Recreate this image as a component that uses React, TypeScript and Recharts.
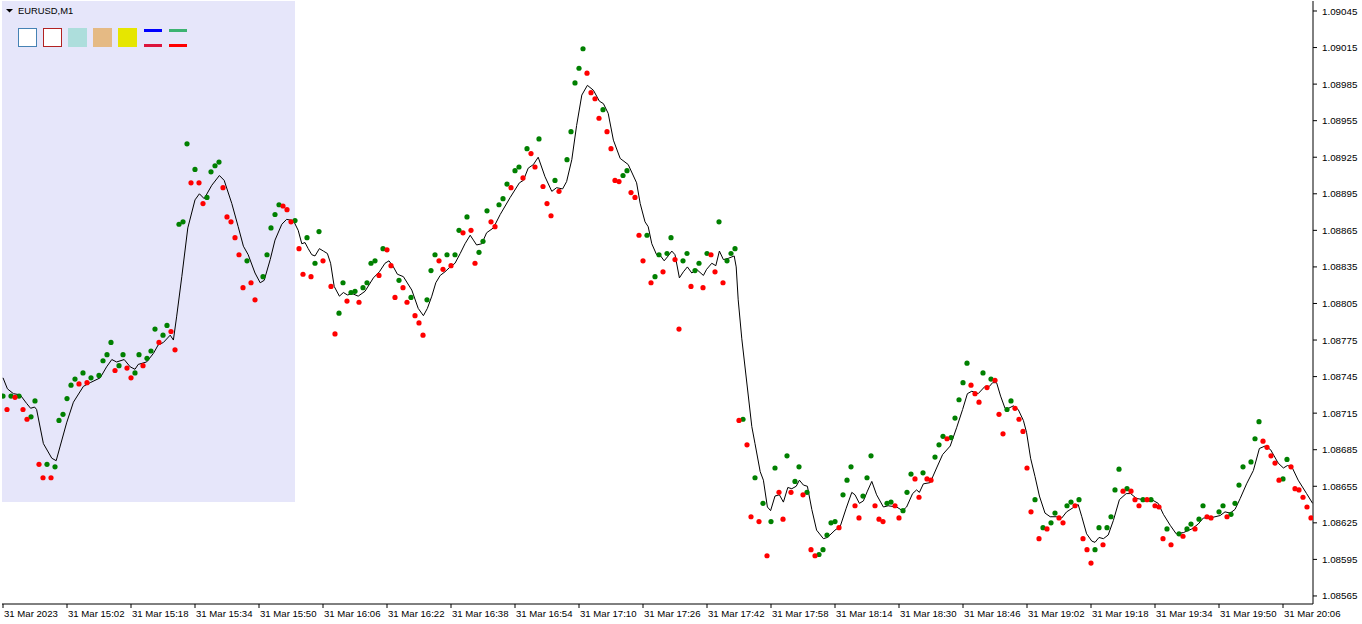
import React from "react";
import { ComposedChart, Line, Scatter, XAxis, YAxis, ReferenceArea } from "recharts";

// one bar per minute, bar 0 = 31 Mar 14:46
const timeTicks = [0, 16, 32, 48, 64, 80, 96, 112, 128, 144, 160, 176, 192, 208, 224, 240, 256, 272, 288, 304, 320];
const timeLabels = [
  "31 Mar 2023", "31 Mar 15:02", "31 Mar 15:18", "31 Mar 15:34", "31 Mar 15:50", "31 Mar 16:06",
  "31 Mar 16:22", "31 Mar 16:38", "31 Mar 16:54", "31 Mar 17:10", "31 Mar 17:26", "31 Mar 17:42",
  "31 Mar 17:58", "31 Mar 18:14", "31 Mar 18:30", "31 Mar 18:46", "31 Mar 19:02", "31 Mar 19:18",
  "31 Mar 19:34", "31 Mar 19:50", "31 Mar 20:06",
];
const priceTicks = [
  1.09045, 1.09015, 1.08985, 1.08955, 1.08925, 1.08895, 1.08865, 1.08835, 1.08805,
  1.08775, 1.08745, 1.08715, 1.08685, 1.08655, 1.08625, 1.08595, 1.08565,
];

// dot per bar (null = none), colour by bar: g = green, r = red
const dotPrices = [
  1.08729, 1.08718, 1.08729, 1.08728, 1.08729, 1.08718, 1.0871, 1.08712, 1.08725, 1.08673,
  1.08662, 1.08673, 1.08662, 1.08671, 1.08709, 1.08714, 1.08727, 1.08738, 1.08743, 1.08739,
  1.08748, 1.0874, 1.08744, null, 1.08746, 1.08758, 1.08763, 1.08773, 1.0875, 1.08754,
  1.08763, 1.08752, 1.08744, 1.08748, 1.08763, 1.08754, 1.0876, 1.08766, 1.08784, 1.08773,
  1.08779, 1.08787, 1.08782, 1.08767, 1.0887, 1.08872, 1.08936, 1.08904, 1.08915, 1.08904,
  1.08887, 1.08892, 1.08913, 1.08918, 1.08921, 1.089, 1.08876, 1.08872, 1.08859, 1.08845,
  1.08818, 1.0884, 1.08822, 1.08808, null, 1.08827, 1.08845, 1.08867, 1.08878, 1.08886,
  1.08885, 1.08882, 1.08872, 1.08873, 1.0885, 1.08829, 1.08859, 1.08827, 1.08838, 1.08864,
  1.0884, null, 1.08819, 1.0878, 1.08797, 1.08822, 1.08807, 1.08814, 1.08815, 1.08806,
  1.08818, 1.08822, 1.08838, 1.0884, 1.08828, 1.0885, 1.08849, 1.08836, 1.0881, 1.08824,
  1.08818, 1.08806, 1.0881, 1.08795, 1.08789, 1.08779, 1.08808, 1.08832, 1.08845, 1.0884,
  1.08833, 1.08845, 1.08836, 1.08845, 1.08865, 1.08863, 1.08876, 1.08865, 1.08838, 1.08847,
  1.08856, 1.08881, 1.08872, 1.08868, 1.08886, 1.08891, 1.08903, 1.089, 1.08914, 1.08917,
  1.08908, 1.08932, 1.08928, 1.08917, 1.0894, 1.08901, 1.08887, 1.08877, 1.08906, 1.08897,
  null, 1.08923, 1.08946, 1.08986, 1.08998, 1.09014, 1.08994, 1.08978, 1.08973, 1.08957,
  1.08964, 1.08946, 1.08932, 1.08906, 1.08905, 1.0891, 1.08914, 1.08896, 1.08892, 1.08861,
  1.0884, 1.08861, 1.08822, 1.08827, 1.08845, 1.08831, 1.08846, 1.08859, 1.08841, 1.08784,
  1.0884, 1.08846, 1.08819, 1.08832, 1.08838, 1.08818, 1.08846, 1.08845, 1.08831, 1.08872,
  1.08822, 1.0884, 1.08846, 1.0885, 1.08709, 1.0871, 1.08689, 1.0863, 1.08662, 1.08626,
  1.08641, 1.08598, 1.08626, 1.0867, 1.0865, 1.08628, 1.0868, 1.0865, 1.08659, 1.08671,
  1.08648, 1.0865, 1.08603, 1.08598, 1.08599, 1.08603, 1.08615, 1.08625, 1.08626, 1.08621,
  1.08648, 1.0866, 1.08671, 1.08639, 1.08629, 1.08647, 1.08662, 1.0868, 1.08639, 1.08628,
  1.08626, 1.08641, 1.08642, 1.08639, 1.08629, 1.08635, 1.0865, 1.08665, 1.08661, 1.08646,
  1.08666, 1.08661, 1.0866, 1.08679, 1.08689, 1.08696, 1.08694, 1.08695, 1.08711, 1.08726,
  1.0874, 1.08756, 1.08738, 1.08731, 1.08724, 1.08748, 1.08736, 1.08743, 1.08742, 1.08714,
  1.08698, 1.08718, 1.08725, 1.08719, 1.0871, 1.087, 1.0867, 1.08634, 1.08644, 1.08612,
  1.08621, 1.0862, 1.08625, 1.08633, 1.08629, 1.08625, 1.08639, 1.08642, 1.08639, 1.08644,
  1.08612, 1.08603, 1.08592, 1.08603, 1.08621, 1.08607, 1.08621, 1.0863, 1.08652, 1.08669,
  1.08651, 1.08653, 1.08651, 1.08644, 1.08639, 1.08644, 1.08644, 1.08644, 1.08639, 1.08638,
  1.08612, 1.0862, 1.08607, null, 1.08616, 1.08614, 1.0862, 1.08624, 1.0862, 1.08628,
  1.08639, 1.0863, 1.08629, null, 1.08634, 1.08639, 1.0863, 1.08632, 1.08641, 1.08656,
  1.08671, null, 1.08675, 1.08694, 1.08708, 1.08692, 1.08687, 1.0868, 1.08674, 1.0866,
  1.08661, 1.08677, 1.08671, 1.08653, 1.08652, 1.08646, 1.08638, 1.08629,
];
const dotSides =
  "grgrgrrggr" + "rgrggggggr" + "grg-ggggrg" + "grrggrgggr" + "ggrrgggrgr" +
  "rggggrrrrr" + "rgrr-ggggg" + "rrrgrrgrgg" + "r-rrggrggr" + "ggggrgrrrg" +
  "rrgrrrgggr" + "rgrggrgrrg" + "ggrrgggrgg" + "rgrrgrrrgr" + "-gggggrrrr" +
  "grrrrggrrr" + "rgrggrggrr" + "ggrggrgrrg" + "rgggrgrrgr" + "grggrrgrgg" +
  "rgrrgggggr" + "gggrrgggrr" + "rggrrgggrr" + "grrgggrggg" + "ggrrrgrgrr" +
  "rggrrrrrgr" + "grggrrggrg" + "rrrggrgggg" + "rgrrrgrgrr" + "rgr-grggrg" +
  "grr-ggrggg" + "g-gggrrrrr" + "ggrrrrrr";

// moving average line (bar position, price)
const lineBars = [
  0, 1.1, 2.6, 4.3, 5.9, 6.9, 7.9, 8.4, 10.1, 12.2, 13.3, 14.3, 15.9, 17.6, 20.1, 21.8, 24.3, 25.9, 27.2, 28.4,
  30.3, 31.8, 33, 33.8, 35.9, 37.6, 38.8, 40.1, 41.8, 42.6, 43.4, 44.7, 46.2, 48, 49.1, 50.3, 52.2, 54.1, 55.3, 57.2,
  58.8, 60.1, 61.3, 63, 64.3, 65.3, 66.8, 68, 69.7, 70.9, 72.6, 73.8, 74.7, 75.5, 76.3, 77.2, 78, 79.1, 80.1, 81.1,
  81.9, 82.8, 84.1, 85.1, 86.1, 87.4, 88.8, 90.5, 92.6, 94.1, 95.5, 96.5, 97.6, 98.6, 100.1, 102.2, 103.8, 105.1, 106.1, 107.2,
  108.2, 109.3, 110.5, 111.8, 113, 114.3, 115.5, 116.8, 117.6, 118.4, 119.7, 120.9, 122.6, 124.3, 126.8, 129.1, 130.1, 131.3, 132.6, 133.8,
  135.5, 137.2, 138.4, 139.9, 140.9, 142.2, 143.4, 144.7, 146.1, 147.6, 149.1, 150.1, 151.3, 152.6, 154.3, 155.5, 156.3, 158.4, 159.3, 160.5,
  161.3, 162.2, 163.4, 164.4, 165.3, 166.3, 167.2, 168, 169.1, 170.1, 171.1, 172.2, 173.4, 175.1, 175.9, 177.2, 178.2, 179.1, 180.1, 181.3,
  182.8, 183.3, 183.8, 184.7, 187.2, 188, 189.3, 190.1, 191.1, 191.9, 193, 194.1, 195.1, 196.2, 197.2, 198.3, 199.1, 200.1, 201.1, 202.2,
  203.4, 205.1, 206.1, 208, 209.3, 210.8, 212.2, 213, 214.1, 215.1, 216.1, 217.2, 218.4, 220.1, 221.3, 223.4, 224.9, 225.9, 227.4, 228.4,
  229.1, 230.1, 231.8, 233.4, 234.9, 236.8, 238.4, 239.9, 241.1, 242.2, 243.8, 245.5, 246.6, 247.4, 248.4, 249.4, 250.5, 251.4, 252.6, 253.8,
  255.1, 255.9, 256.9, 258, 259.1, 260.5, 261.8, 263.4, 264.7, 265.9, 267.8, 268.8, 269.7, 270.9, 272.2, 273, 274, 275.1, 276.3, 277.6,
  279.1, 280.8, 281.9, 283.4, 285.1, 287.2, 288.8, 290.1, 291.8, 293.3, 295.1, 297.2, 298.8, 300.1, 301.8, 304.3, 305.5, 306.8, 308, 309.3,
  310.9, 312.6, 314.1, 315.5, 316.9, 318.8, 320.1, 321.1, 322.2, 323.8, 325.9, 327.4,
];
const linePrices = [
  1.08744, 1.08735, 1.08731, 1.0873, 1.08723, 1.08719, 1.0872, 1.08718, 1.0869, 1.08678, 1.08676, 1.08688, 1.08707, 1.08724, 1.08737, 1.0874, 1.08744, 1.08753, 1.08759, 1.08757,
  1.08759, 1.08753, 1.08751, 1.08755, 1.08757, 1.08764, 1.08771, 1.08773, 1.08779, 1.08775, 1.08794, 1.08827, 1.08867, 1.0889, 1.08895, 1.08891, 1.08902, 1.0891, 1.08906, 1.08887,
  1.08868, 1.08852, 1.08845, 1.0883, 1.08822, 1.08824, 1.08841, 1.08857, 1.0887, 1.08874, 1.08873, 1.08865, 1.08854, 1.08855, 1.0885, 1.08845, 1.08844, 1.0885, 1.08848, 1.08846,
  1.08838, 1.08819, 1.08811, 1.08814, 1.08812, 1.08813, 1.08811, 1.08815, 1.08826, 1.08831, 1.08838, 1.0884, 1.08835, 1.08829, 1.08827, 1.08816, 1.08801, 1.08795, 1.08801, 1.08811,
  1.08822, 1.08828, 1.08831, 1.08835, 1.08838, 1.08846, 1.08854, 1.08861, 1.08857, 1.08853, 1.08854, 1.08863, 1.08867, 1.08878, 1.08892, 1.08904, 1.08906, 1.08916, 1.08919, 1.08925,
  1.08909, 1.08897, 1.089, 1.08899, 1.08905, 1.08923, 1.08951, 1.08976, 1.08984, 1.0898, 1.08971, 1.08969, 1.08961, 1.08939, 1.08924, 1.08921, 1.08919, 1.08904, 1.08887, 1.08872,
  1.08868, 1.08854, 1.08845, 1.08844, 1.0884, 1.08844, 1.08848, 1.08845, 1.08826, 1.08831, 1.08835, 1.0883, 1.08833, 1.08828, 1.08833, 1.08838, 1.08836, 1.08848, 1.08841, 1.08842,
  1.08844, 1.08835, 1.08808, 1.08776, 1.08704, 1.0869, 1.08667, 1.0866, 1.08638, 1.08635, 1.08647, 1.08648, 1.08642, 1.08654, 1.08653, 1.08655, 1.0866, 1.08656, 1.08655, 1.08636,
  1.08619, 1.08612, 1.08613, 1.08619, 1.08622, 1.08637, 1.0865, 1.08648, 1.08641, 1.08643, 1.08651, 1.08659, 1.08648, 1.08638, 1.08639, 1.08638, 1.08635, 1.08638, 1.08649, 1.08652,
  1.0865, 1.08657, 1.08658, 1.0867, 1.08681, 1.08688, 1.08703, 1.08718, 1.08731, 1.08733, 1.08731, 1.08737, 1.08737, 1.0874, 1.0874, 1.08729, 1.08719, 1.08719, 1.08721, 1.08718,
  1.08709, 1.08699, 1.08678, 1.08663, 1.08647, 1.08633, 1.0863, 1.0863, 1.08629, 1.08634, 1.08638, 1.0864, 1.0863, 1.08616, 1.0861, 1.08609, 1.08613, 1.08612, 1.08615, 1.08627,
  1.08644, 1.08649, 1.08649, 1.08645, 1.08644, 1.08644, 1.08641, 1.08632, 1.08623, 1.08616, 1.08617, 1.0862, 1.08624, 1.08629, 1.08629, 1.08631, 1.08634, 1.08633, 1.08636, 1.08645,
  1.08657, 1.08668, 1.08686, 1.08688, 1.08685, 1.08674, 1.0867, 1.08672, 1.08671, 1.0866, 1.08649, 1.08641,
];

// shaded rectangle drawn on the chart
const boxFromBar = -0.25;
const boxToBar = 73;
const boxLowPrice = 1.08642;

const xDomain: [number, number] = [-0.25, 327.5];
const yDomain: [number, number] = [1.085584, 1.090532];

const FONT = "Liberation Sans, Arial, sans-serif";

const greenDots = dotPrices
  .map((p, i) => ({ i, p, s: dotSides[i] }))
  .filter((d) => d.p !== null && d.s === "g");
const redDots = dotPrices
  .map((p, i) => ({ i, p, s: dotSides[i] }))
  .filter((d) => d.p !== null && d.s === "r");
const lineData = lineBars.map((b, k) => ({ i: b, p: linePrices[k] }));

function TimeTick(props: any) {
  const { x, y, payload } = props;
  const label = timeLabels[timeTicks.indexOf(payload.value)];
  return (
    <text x={x + 1} y={y} dy="0.7em" textAnchor="start" fontSize={9.6} fontFamily={FONT} fill="#000">
      {label}
    </text>
  );
}

function PriceTick(props: any) {
  const { x, y, payload } = props;
  return (
    <text x={x + 1} y={y} dy="0.36em" textAnchor="start" fontSize={9.8} fontFamily={FONT} fill="#000">
      {payload.value.toFixed(5)}
    </text>
  );
}

const dotShape = (color: string) => (props: any) =>
  <circle cx={props.cx} cy={props.cy} r={2.6} fill={color} />;

function Header() {
  return (
    <svg width={200} height={52} style={{ position: "absolute", left: 0, top: 0, pointerEvents: "none" }}>
      <polygon points="6,9 13,9 9.5,12.5" fill="#000" />
      <text x={18} y={14} fontSize={9.4} fontFamily={FONT} fill="#000">EURUSD,M1</text>
      <rect x={18.5} y={28.5} width={18} height={18} fill="#fff" stroke="#4682B4" />
      <rect x={43.5} y={28.5} width={18} height={18} fill="#fff" stroke="#B22222" />
      <rect x={68} y={28} width={19} height={19} fill="#ADDEDC" />
      <rect x={93} y={28} width={19} height={19} fill="#E5BA84" />
      <rect x={118} y={28} width={19} height={19} fill="#E6E600" />
      <rect x={144} y={29} width={18} height={3} fill="#0000FF" />
      <rect x={144} y={44} width={18} height={3} fill="#DC143C" />
      <rect x={169} y={29} width={18} height={3} fill="#3CB371" />
      <rect x={169} y={44} width={18} height={3} fill="#FF0000" />
    </svg>
  );
}

export default function App() {
  return (
    <div style={{ position: "absolute", left: 0, top: 0, width: 1362, height: 624, background: "#fff" }}>
      <ComposedChart width={1362} height={624} margin={{ top: 1, right: 0, bottom: 0, left: 2 }}>
        <XAxis
          dataKey="i"
          type="number"
          domain={xDomain}
          allowDataOverflow
          ticks={timeTicks}
          tick={<TimeTick />}
          tickSize={4}
          tickMargin={2}
          height={20}
          stroke="#000"
          interval={0}
        />
        <XAxis xAxisId="top" orientation="top" type="number" domain={xDomain} height={0} tick={false} tickLine={false} stroke="#000" />
        <YAxis
          dataKey="p"
          type="number"
          orientation="right"
          domain={yDomain}
          allowDataOverflow
          ticks={priceTicks}
          tick={<PriceTick />}
          tickSize={4}
          tickMargin={4}
          width={49}
          stroke="#000"
          interval={0}
        />
        <YAxis yAxisId="left" orientation="left" type="number" domain={yDomain} width={0} tick={false} tickLine={false} stroke="#000" />
        <ReferenceArea
          x1={boxFromBar}
          x2={boxToBar}
          y1={boxLowPrice}
          y2={yDomain[1]}
          fill="#E6E6FA"
          fillOpacity={1}
          stroke="none"
        />
        <Line
          data={lineData}
          dataKey="p"
          type="linear"
          stroke="#000"
          strokeWidth={1}
          dot={false}
          activeDot={false}
          isAnimationActive={false}
        />
        <Scatter data={greenDots} dataKey="p" fill="#008000" shape={dotShape("#008000")} isAnimationActive={false} />
        <Scatter data={redDots} dataKey="p" fill="#FF0000" shape={dotShape("#FF0000")} isAnimationActive={false} />
      </ComposedChart>
      <Header />
    </div>
  );
}
